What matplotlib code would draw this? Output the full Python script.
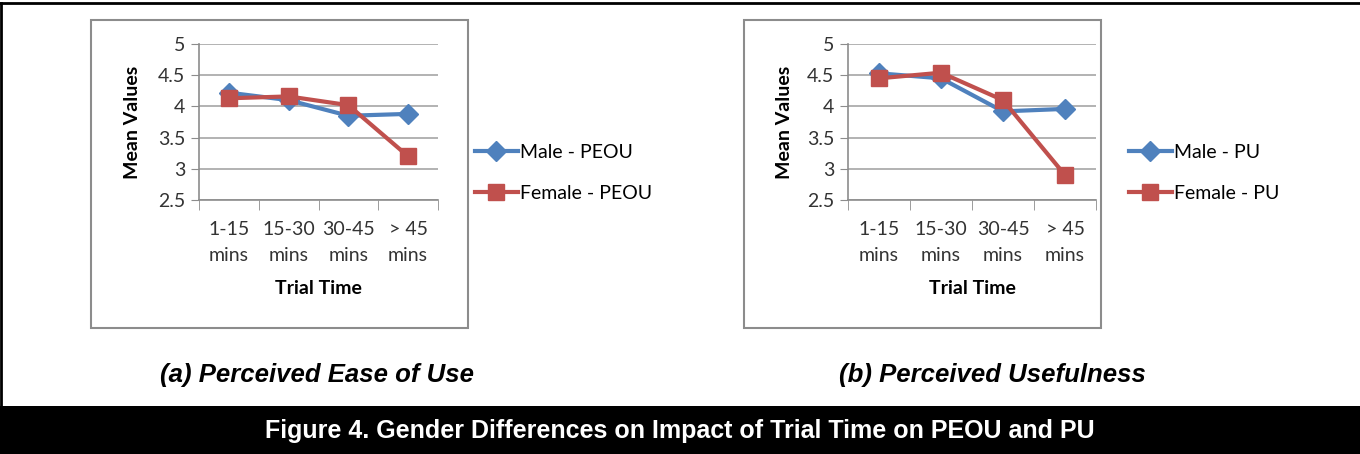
import numpy as np
import matplotlib.pyplot as plt
from matplotlib.patches import Rectangle

categories = ["1-15\nmins", "15-30\nmins", "30-45\nmins", "> 45\nmins"]
peou_male = [4.22, 4.10, 3.85, 3.88]
peou_female = [4.13, 4.16, 4.02, 3.20]
pu_male = [4.53, 4.45, 3.92, 3.96]
pu_female = [4.45, 4.54, 4.10, 2.90]

W, H = 1360, 454
blue = "#4F81BD"
red = "#C0504D"
chart_font = "Lato"

fig = plt.figure(figsize=(W / 100, H / 100), dpi=100)


def fx(px):
    return px / W


def fy(py):
    return 1 - py / H


# outer frame lines + caption band
fig.add_artist(plt.Line2D([0, 1], [fy(3), fy(3)], color="black", lw=2))
fig.add_artist(plt.Line2D([fx(1), fx(1)], [fy(3), 0], color="black", lw=2))
fig.add_artist(Rectangle((0, 0), 1, 48 / H, transform=fig.transFigure,
                         facecolor="black", edgecolor="none"))
fig.text(0.5, fy(431), "Figure 4. Gender Differences on Impact of Trial Time on PEOU and PU",
         color="white", ha="center", va="center", fontsize=18, fontweight="bold",
         family="Liberation Sans")

panels = [
    dict(box=(91, 20, 468, 328), ax=(199, 44, 438, 200), data=(peou_male, peou_female),
         names=("Male - PEOU", "Female - PEOU"), leg_x=465, ylab_x=133,
         sub="(a) Perceived Ease of Use", sub_x=317),
    dict(box=(744, 20, 1101, 328), ax=(848, 44, 1096, 200), data=(pu_male, pu_female),
         names=("Male - PU", "Female - PU"), leg_x=1119, ylab_x=785,
         sub="(b) Perceived Usefulness", sub_x=992),
]

x = np.arange(len(categories))
for p in panels:
    x0, y0, x1, y1 = p["box"]
    fig.add_artist(Rectangle((fx(x0), fy(y1)), fx(x1 - x0), (y1 - y0) / H,
                             transform=fig.transFigure, facecolor="white",
                             edgecolor="#8C8C8C", lw=1.5, zorder=-1))
    a0, b0, a1, b1 = p["ax"]
    ax = fig.add_axes([fx(a0), fy(b1), fx(a1 - a0), (b1 - b0) / H])
    ax.patch.set_alpha(0)
    male, female = p["data"]
    ax.plot(x, male, color=blue, lw=3, marker="D", markersize=10,
            label=p["names"][0], zorder=3, clip_on=False)
    ax.plot(x, female, color=red, lw=3, marker="s", markersize=12,
            label=p["names"][1], zorder=4, clip_on=False)
    ax.set_ylim(2.5, 5)
    ax.set_xlim(-0.5, len(categories) - 0.5)
    ax.set_yticks([2.5, 3, 3.5, 4, 4.5, 5])
    ax.set_yticklabels(["2.5", "3", "3.5", "4", "4.5", "5"])
    ax.set_xticks(x)
    ax.set_xticklabels(categories, linespacing=1.65)
    ax.set_xticks(np.arange(-0.5, len(categories)), minor=True)
    ax.tick_params(axis="x", which="major", length=0, pad=15)
    ax.tick_params(axis="x", which="minor", length=7, color="#8C8C8C", direction="out")
    ax.tick_params(axis="y", length=6, color="#8C8C8C", pad=4)
    for lab in ax.get_xticklabels() + ax.get_yticklabels():
        lab.set_family(chart_font)
        lab.set_fontsize(14)
        lab.set_color("#333333")
    ax.yaxis.grid(True, color="#A6A6A6", lw=1.2)
    ax.set_axisbelow(True)
    for s in ["top", "right"]:
        ax.spines[s].set_visible(False)
    for s in ["left", "bottom"]:
        ax.spines[s].set_color("#8C8C8C")
        ax.spines[s].set_linewidth(1.2)
    fig.text(fx(p["ylab_x"]), fy(122), "Mean Values", rotation=90, ha="center",
             va="center", fontsize=14, fontweight="bold", family=chart_font)
    fig.text(fx((a0 + a1) / 2), fy(289), "Trial Time", ha="center", va="center",
             fontsize=14, fontweight="bold", family=chart_font)
    ax.legend(loc="center left", bbox_to_anchor=(fx(p["leg_x"]), fy(173)),
              bbox_transform=fig.transFigure, frameon=False, borderpad=0,
              handlelength=2.2, handletextpad=0.15, labelspacing=1.25,
              prop=dict(family=chart_font, size=14))
    fig.text(fx(p["sub_x"]), fy(375), p["sub"], ha="center", va="center",
             fontsize=18.5, fontweight="bold", style="italic", family="Liberation Sans")

fig.savefig("out.png", dpi=100)
